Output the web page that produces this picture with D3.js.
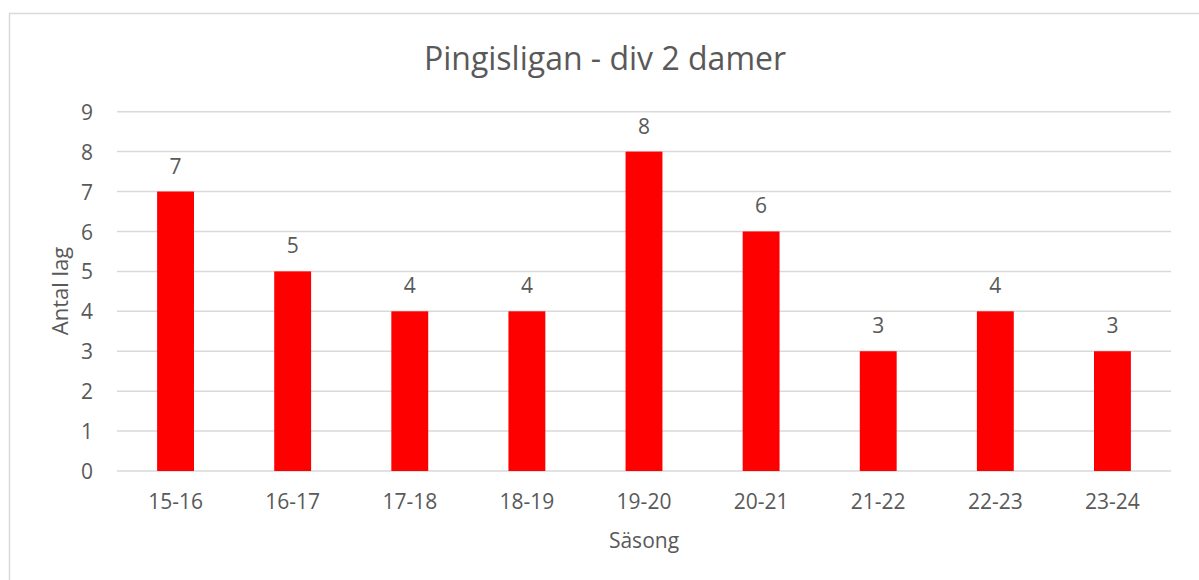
<!DOCTYPE html>
<html><head><meta charset="utf-8">
<script src="https://cdn.jsdelivr.net/npm/d3@7"></script>
<style>body{margin:0;background:#fff;} text{font-family:"Open Sans",sans-serif;fill:#595959;}</style>
</head><body>
<svg id="c" width="1199" height="580"></svg>
<script>
const categories = ["15-16","16-17","17-18","18-19","19-20","20-21","21-22","22-23","23-24"];
const values = [7,5,4,4,8,6,3,4,3];
const yTicks = [0,1,2,3,4,5,6,7,8,9];
const title = "Pingisligan - div 2 damer";
const xTitle = "Säsong";
const yTitle = "Antal lag";

const svg = d3.select("#c");
svg.append("rect").attr("x",9.5).attr("y",13.5).attr("width",1200).attr("height",600)
  .attr("fill","#fff").attr("stroke","#d9d9d9").attr("stroke-width",1.5);

const m = {left:117, right:1171, top:111.7, bottom:471};
const x = d3.scaleBand().domain(categories).range([m.left,m.right]).paddingInner(0.685).paddingOuter(0.3425);
const y = d3.scaleLinear().domain([0,9]).range([m.bottom,m.top]);

const g = svg.append("g");
g.selectAll("line.grid").data(yTicks).join("line").attr("class","grid")
  .attr("x1",m.left).attr("x2",m.right).attr("y1",d=>y(d)).attr("y2",d=>y(d))
  .attr("stroke","#d9d9d9").attr("stroke-width",1.5);

const yAxis = d3.axisLeft(y).tickValues(yTicks).tickSize(0).tickPadding(0);
const ya = g.append("g").attr("transform",`translate(${m.left-24},0)`).call(yAxis);
ya.select(".domain").remove();
ya.selectAll("text").attr("font-size",21).attr("fill","#595959").attr("dy","0.36em");

g.selectAll("rect.bar").data(values).join("rect").attr("class","bar")
  .attr("x",(d,i)=>x(categories[i])).attr("width",x.bandwidth())
  .attr("y",d=>y(d)).attr("height",d=>y(0)-y(d)).attr("fill","#ff0000");

g.selectAll("text.lbl").data(values).join("text").attr("class","lbl")
  .attr("x",(d,i)=>x(categories[i])+x.bandwidth()/2).attr("y",d=>y(d)-18)
  .attr("text-anchor","middle").attr("font-size",21).text(d=>d);

const xAxis = d3.axisBottom(x).tickSize(0).tickPadding(0);
const xa = g.append("g").attr("transform",`translate(0,${m.bottom})`).call(xAxis);
xa.select(".domain").remove();
xa.selectAll("text").attr("font-size",21).attr("fill","#595959").attr("dy",0).attr("y",38);

svg.append("text").attr("x",605).attr("y",70).attr("text-anchor","middle").attr("font-size",32).text(title);
svg.append("text").attr("x",644).attr("y",548).attr("text-anchor","middle").attr("font-size",21).text(xTitle);
svg.append("text").attr("transform","translate(68,291) rotate(-90)").attr("text-anchor","middle").attr("font-size",22).text(yTitle);
</script>
</body></html>
